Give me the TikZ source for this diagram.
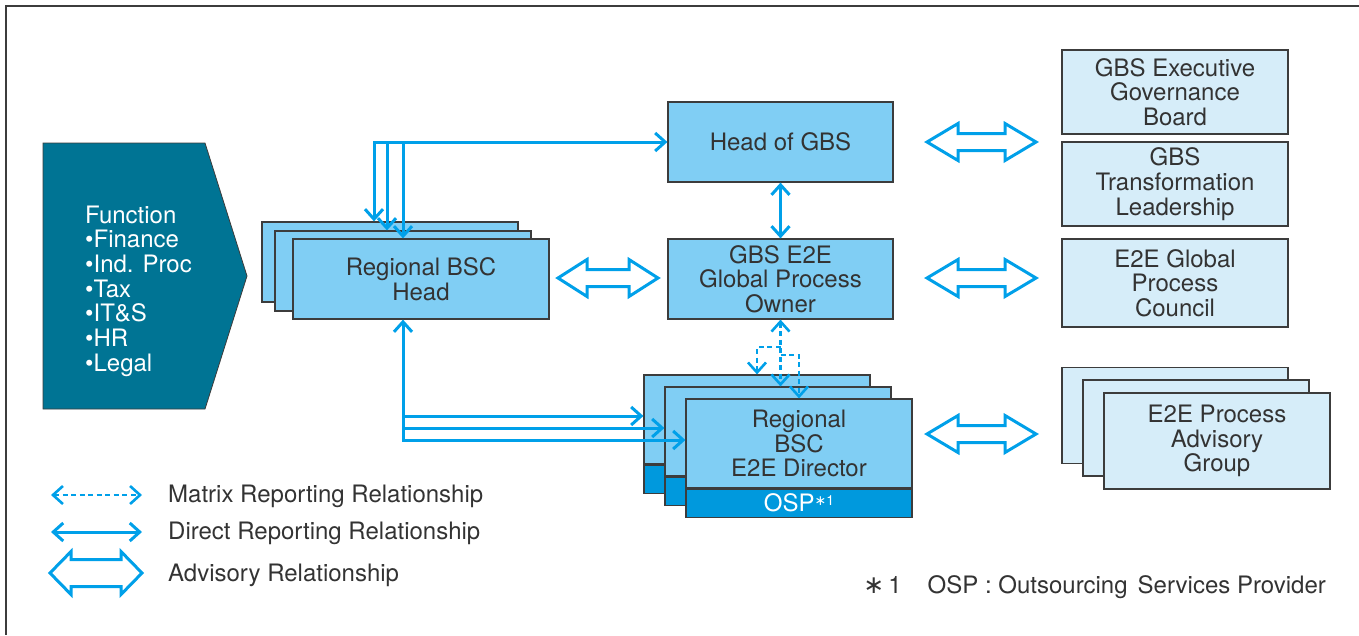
\documentclass[tikz,border=0pt]{standalone}
\usepackage{fontspec}
\setmainfont{TeX Gyre Heros}
\newfontfamily\symf{DejaVu Sans}
\usetikzlibrary{arrows.meta}
\definecolor{lb}{HTML}{80CEF4}
\definecolor{pb}{HTML}{D6EDF9}
\definecolor{bandc}{HTML}{0099DD}
\definecolor{arr}{HTML}{00A0E9}
\definecolor{fnteal}{HTML}{007494}
\definecolor{txt}{HTML}{333333}
\definecolor{bord}{HTML}{3C3C3C}
\newcommand\myadv[6]{%
  \draw[adv] (#1,#3) -- ({#1+#4},{#3-#5}) -- ({#1+#4},{#3-#6}) -- ({#2-#4},{#3-#6})
   -- ({#2-#4},{#3-#5}) -- (#2,#3) -- ({#2-#4},{#3+#5}) -- ({#2-#4},{#3+#6})
   -- ({#1+#4},{#3+#6}) -- ({#1+#4},{#3+#5}) -- cycle;}
\begin{document}
\begin{tikzpicture}[x=1pt,y=-1pt,
  font=\fontsize{24}{24.7}\selectfont,
  >={Straight Barb[length=10pt,width=18pt]},
  box/.style={draw=bord, line width=1.2pt, fill=lb, inner sep=0pt, align=center, text=txt,
     minimum width=226pt, minimum height=80pt},
  pbox/.style={box, fill=pb},
  bandbox/.style={box, fill=bandc, text=white, minimum height=28pt,
     font=\fontsize{24}{24}\selectfont},
  direct/.style={draw=arr, line width=3pt},
  matrixrel/.style={draw=arr, line width=2.6pt, dash pattern=on 5pt off 3.5pt},
  adv/.style={draw=arr, line width=3pt, fill=white, line join=miter},
  lbl/.style={anchor=west, text=txt, inner sep=0pt}]
\useasboundingbox (0,0) rectangle (1359,635);
\draw[bord, line width=2pt] (1359,5.5) -- (5.5,5.5) -- (5.5,635);

% Function
\draw[draw=bord, line width=0.8pt, fill=fnteal] (43,143) -- (205,143) -- (247,276) -- (205,409) -- (43,409) -- cycle;
\node[anchor=west, align=left, text=white, inner sep=0pt] (func) at (85,291)
  {Function\\•Finance\\•Ind. Proc\\•Tax\\•IT\&S\\•HR\\•Legal};

% central boxes
\node[box, minimum width=225pt] (head) at (780.5,142) {Head of GBS};
\node[box, minimum width=225pt] (owner) at (780.5,279) {GBS E2E\\Global Process\\Owner};

% regional BSC head stack
\node[box, minimum width=256pt] (rbh1) at (390,262) {};
\node[box, minimum width=256pt] (rbh2) at (403,271) {};
\node[box, minimum width=256pt] (rbh3) at (421,279) {Regional BSC\\Head};

% director stack
\node[box, minimum height=89pt] (dir1) at (757,419.5) {};
\node[bandbox, anchor=north] (osp1) at (dir1.south) {};
\node[box, minimum height=89pt] (dir2) at (778,431.5) {};
\node[bandbox, anchor=north] (osp2) at (dir2.south) {};
\node[box, minimum height=89pt] (dir3) at (799,443.5) {Regional\\BSC\\E2E Director};
\node[bandbox, anchor=north] (osp3) at (dir3.south) {OSP\raisebox{6pt}{\fontsize{14}{14}\selectfont{\symf ∗}1}};

% right column
\node[pbox, minimum height=84pt] (exec) at (1175,92) {GBS Executive\\Governance\\Board};
\node[pbox, minimum height=84pt] (trans) at (1175,184) {GBS\\Transformation\\Leadership};
\node[pbox, minimum height=88pt] (council) at (1175,283) {E2E Global\\Process\\Council};
\node[pbox, minimum height=96pt] (ag1) at (1175,415.5) {};
\node[pbox, minimum height=96pt] (ag2) at (1196,428) {};
\node[pbox, minimum height=96pt] (ag3) at (1217,441) {E2E Process\\Advisory\\Group};

% direct reporting: regional heads -> head of GBS
\coordinate (j1) at (374,142);
\coordinate (j2) at (387,142);
\coordinate (j3) at (403,142);
\draw[direct,<->] (j1 |- rbh1.north) -- (j1) -- (head.west);
\draw[direct,->] (j2) -- (j2 |- rbh2.north);
\draw[direct,->] (j3) -- (j3 |- rbh3.north);
\draw[direct,<->] (head.south) -- (owner.north);

% direct reporting: regional head -> directors
\coordinate (k1) at (403,416);
\coordinate (k2) at (403,428);
\coordinate (k3) at (403,440);
\draw[direct,<->] (k3 |- rbh3.south) -- (k3) -- (k3 -| dir3.west);
\draw[direct,->] (k1) -- (k1 -| dir1.west);
\draw[direct,->] (k2) -- (k2 -| dir2.west);

% matrix reporting
\coordinate (m1) at (780.5,347);
\coordinate (m3) at (780.5,355);
\draw[matrixrel,<->] (owner.south) -- (owner.south |- dir2.north);
\draw[matrixrel,->] (m1) -| (dir1.north);
\draw[matrixrel,->] (m3) -| (dir3.north);

% advisory arrows
\myadv{927}{1036}{142}{31}{18.5}{8.5}
\myadv{558}{658}{278}{29}{18.5}{8.5}
\myadv{927}{1036}{278}{31}{18.5}{8.5}
\myadv{927}{1036}{434}{31}{18.5}{8.5}

% legend
\coordinate (l1a) at (51,495); \coordinate (l1b) at (142,495);
\coordinate (l2a) at (51,532); \coordinate (l2b) at (142,532);
\draw[matrixrel,<->] (l1a) -- (l1b);
\draw[direct,<->] (l2a) -- (l2b);
\myadv{50}{142}{573}{21}{21.5}{13.5}
\node[lbl] (lt1) at (168,496) {Matrix Reporting Relationship};
\node[lbl] (lt2) at (168,533) {Direct Reporting Relationship};
\node[lbl] (lt3) at (168,575) {Advisory Relationship};

% footnote
\node[anchor=east, text=txt, inner sep=0pt] (foot) at (1326,587)
  {{\symf\fontsize{25}{25}\selectfont ∗}\,1\hspace{26pt}OSP : Outsourcing\hspace{10pt}Services Provider};
\end{tikzpicture}
\end{document}
